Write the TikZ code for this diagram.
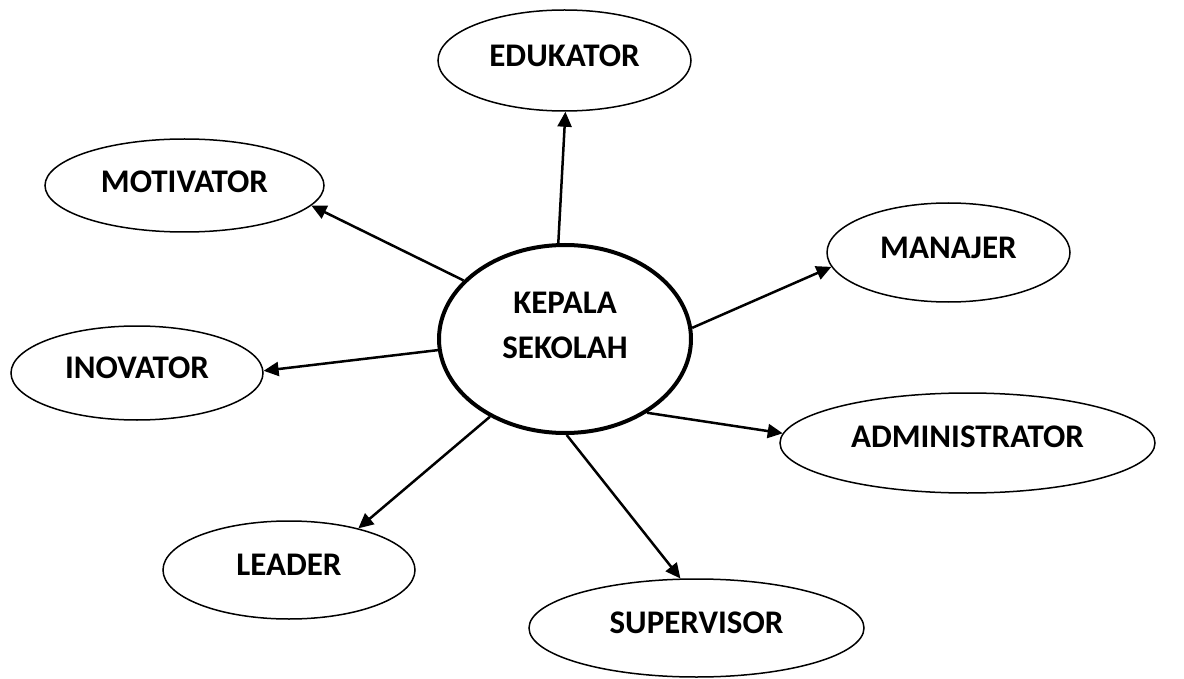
\documentclass[tikz,border=0pt]{standalone}
\usepackage{fontspec}
\setmainfont{Carlito}
\usetikzlibrary{shapes.geometric}
\usetikzlibrary{arrows.meta}

\begin{document}
\begin{tikzpicture}[x=1pt, y=-1pt,
	bubble/.style={draw, ellipse, line width=1.5pt, inner sep=0pt},
	caption/.style={font=\fontsize{33}{45}\selectfont\bfseries, align=center, yshift=#1},
	caption/.default=5pt,
	link/.style={line width=2.5pt, -{Triangle[length=15pt,width=14pt]}}]
	\useasboundingbox (0,0) rectangle (1184,679);

	% draw the centre
	\node[bubble, line width=4pt, minimum width=252pt, minimum height=188pt,
		label={[caption=14pt]center:KEPALA\\SEKOLAH}] (kepala) at (565,339) {};

	% draw the roles
	\node[bubble, minimum width=253pt, minimum height=101pt, label={[caption]center:EDUKATOR}] (edukator) at (564.5,60.5) {};
	\node[bubble, minimum width=279pt, minimum height=93pt, label={[caption=3.5pt]center:MOTIVATOR}] (motivator) at (184.5,185.5) {};
	\node[bubble, minimum width=243pt, minimum height=99pt, label={[caption]center:MANAJER}] (manajer) at (948.5,252.5) {};
	\node[bubble, minimum width=252pt, minimum height=94pt, label={[caption]center:INOVATOR}] (inovator) at (137,373) {};
	\node[bubble, minimum width=375pt, minimum height=100pt, label={[caption=6pt]center:ADMINISTRATOR}] (administrator) at (967.5,443) {};
	\node[bubble, minimum width=252pt, minimum height=98pt, label={[caption]center:LEADER}] (leader) at (289,570) {};
	\node[bubble, minimum width=335pt, minimum height=98pt, label={[caption]center:SUPERVISOR}] (supervisor) at (696.5,628) {};

	% draw the arrows
	\draw[link] (kepala.94.8) -- (edukator.271.6);
	\draw[link] (kepala.150.4) -- (motivator.351);
	\draw[link] (kepala.185) -- (inovator.1.8);
	\draw[link] (kepala.5.8) -- (manajer.187.9);
	\draw[link] (kepala.318.3) -- (administrator.177);
	\draw[link] (kepala.226.5) -- (leader.31.7);
	\draw[link] (kepala.271.2) -- (supervisor.108.6);
\end{tikzpicture}
\end{document}
